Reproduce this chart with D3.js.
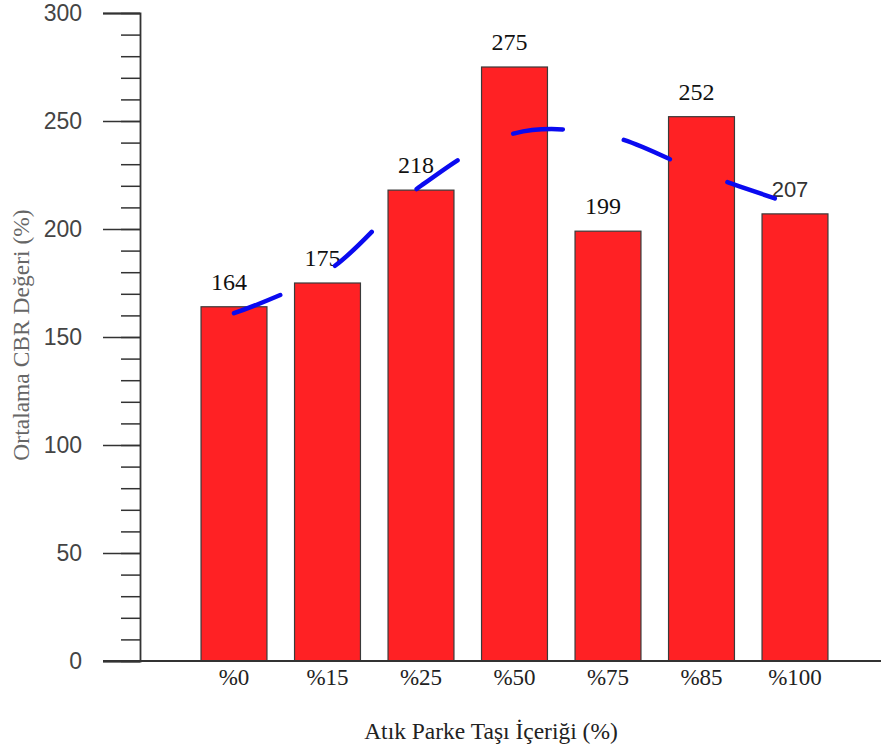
<!DOCTYPE html>
<html>
<head>
<meta charset="utf-8">
<script src="https://cdn.jsdelivr.net/npm/d3@7"></script>
<style>
  html, body { margin: 0; padding: 0; background: #fff; }
  svg { display: block; }
</style>
</head>
<body>
<svg id="chart" width="881" height="753"></svg>
<script>
// Mean CBR value by waste paving-stone content
const categories = ["%0", "%15", "%25", "%50", "%75", "%85", "%100"];
const cbrValues = [164, 175, 218, 275, 199, 252, 207];
// Smoothed trend of the CBR values at each category
const trendValues = [161, 180.5, 220, 244.3, 243.2, 226, 211];
const yMajorTicks = [0, 50, 100, 150, 200, 250, 300];
const yMinorTicks = d3.range(0, 301, 10);

const svg = d3.select("#chart");

const x = d3.scaleBand()
  .domain(categories)
  .range([187.25, 841.75])
  .paddingInner(0.295)
  .paddingOuter(0.1475);

const y = d3.scaleLinear().domain([0, 300]).range([661, 13]);

const axisColor = "#333";
const serif = "'Liberation Serif', 'Times New Roman', serif";
const sans = "'Liberation Sans', Arial, sans-serif";

// Minor ticks
const minorAxis = svg.append("g")
  .attr("transform", "translate(140,0)")
  .call(d3.axisLeft(y).tickValues(yMinorTicks).tickSize(19).tickFormat(""));
minorAxis.select(".domain").remove();
minorAxis.selectAll("line").attr("stroke", axisColor).attr("stroke-width", 1.5);

// Major ticks with labels
const majorAxis = svg.append("g")
  .attr("transform", "translate(140,0)")
  .call(d3.axisLeft(y).tickValues(yMajorTicks).tickSize(37).tickPadding(21));
majorAxis.select(".domain").attr("stroke", axisColor).attr("stroke-width", 1.8);
majorAxis.selectAll("line").attr("stroke", axisColor).attr("stroke-width", 1.5);
majorAxis.selectAll("text")
  .attr("fill", "#444")
  .style("font-family", sans)
  .style("font-size", "23px");

// Bars
svg.append("g").selectAll("rect")
  .data(cbrValues)
  .join("rect")
  .attr("x", (d, i) => x(categories[i]))
  .attr("y", d => y(d))
  .attr("width", x.bandwidth())
  .attr("height", d => y(0) - y(d))
  .attr("fill", "#ff2124")
  .attr("stroke", "#3a3a3a")
  .attr("stroke-width", 1.2);

// X axis baseline
svg.append("line")
  .attr("x1", 103).attr("x2", 881)
  .attr("y1", y(0)).attr("y2", y(0))
  .attr("stroke", axisColor).attr("stroke-width", 1.8);

// Category labels
svg.append("g").selectAll("text")
  .data(categories)
  .join("text")
  .attr("x", d => x(d) + x.bandwidth() / 2)
  .attr("y", 685)
  .attr("text-anchor", "middle")
  .attr("fill", "#222")
  .style("font-family", serif)
  .style("font-size", "23px")
  .text(d => d);

// Value labels above bars
svg.append("g").selectAll("text")
  .data(cbrValues)
  .join("text")
  .attr("x", (d, i) => x(categories[i]) + x.bandwidth() / 2 - 5)
  .attr("y", d => y(d) - 17)
  .attr("text-anchor", "middle")
  .attr("fill", (d, i) => i === 6 ? "#333" : "#111")
  .style("font-family", (d, i) => i === 6 ? sans : serif)
  .style("font-size", (d, i) => i === 6 ? "22px" : "24px")
  .text(d => d);

// Dashed trend curve
const trendLine = d3.line()
  .x((d, i) => x(categories[i]) + x.bandwidth() / 2)
  .y(d => y(d))
  .curve(d3.curveCatmullRom.alpha(0.5));

svg.append("path")
  .datum(trendValues)
  .attr("d", trendLine)
  .attr("fill", "none")
  .attr("stroke", "#0a0af0")
  .attr("stroke-width", 4.5)
  .attr("stroke-linecap", "round")
  .attr("stroke-dasharray", "50 62");

// Axis titles
svg.append("text")
  .attr("x", 491)
  .attr("y", 739)
  .attr("text-anchor", "middle")
  .attr("fill", "#222")
  .style("font-family", serif)
  .style("font-size", "23.5px")
  .text("Atık Parke Taşı İçeriği (%)");

svg.append("text")
  .attr("transform", "translate(29,335) rotate(-90)")
  .attr("text-anchor", "middle")
  .attr("fill", "#666")
  .style("font-family", serif)
  .style("font-size", "23.5px")
  .text("Ortalama CBR Değeri (%)");
</script>
</body>
</html>
